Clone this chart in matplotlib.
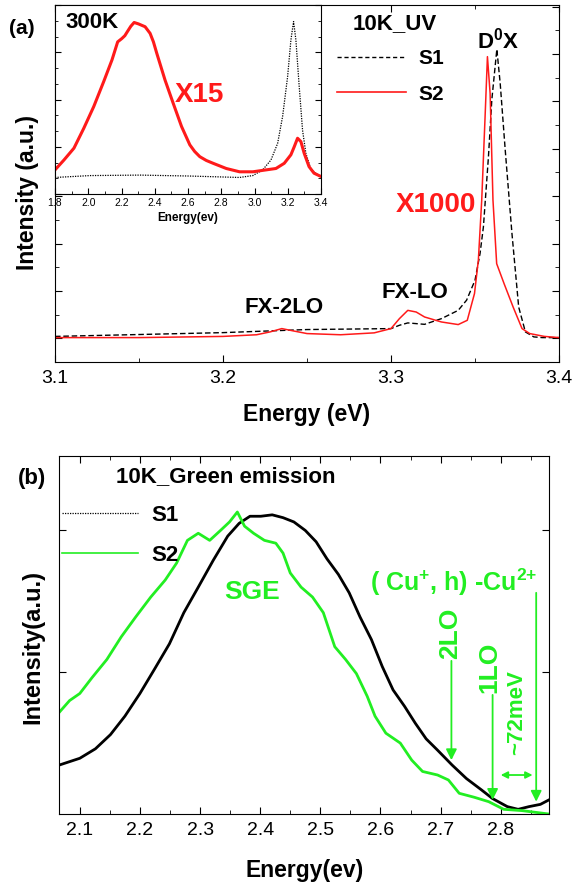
import matplotlib
matplotlib.use('Agg')
import matplotlib.pyplot as plt
from matplotlib.ticker import MultipleLocator, FixedLocator, AutoMinorLocator
from matplotlib.lines import Line2D

plt.rcParams['font.family'] = ['Liberation Sans', 'DejaVu Sans']
plt.rcParams['mathtext.fontset'] = 'custom'
plt.rcParams['mathtext.rm'] = 'Liberation Sans'
plt.rcParams['mathtext.bf'] = 'Liberation Sans:bold'

RED = '#ff1a1a'
GREEN = '#22ee22'

# ---- panel (a): 10K UV emission ----
s2_uv_e = [3.10, 3.15, 3.20, 3.22, 3.228, 3.235, 3.242, 3.25, 3.27, 3.29, 3.30, 3.305,
           3.31, 3.315, 3.32, 3.33, 3.34, 3.3454, 3.3497, 3.352, 3.354, 3.356, 3.3574,
           3.359, 3.3607, 3.3629, 3.3673, 3.3727, 3.378, 3.3826, 3.3913, 3.40]
s2_uv_i = [1.03, 1.03, 1.08, 1.15, 1.27, 1.41, 1.31, 1.20, 1.15, 1.23, 1.41, 1.83,
           2.18, 2.11, 1.90, 1.69, 1.58, 1.76, 2.89, 4.30, 6.83, 10.35, 12.89,
           11.34, 6.83, 4.15, 3.31, 2.32, 1.41, 1.20, 1.08, 1.03]
s1_uv_e = [3.10, 3.20, 3.25, 3.30, 3.305, 3.31, 3.32, 3.33, 3.34, 3.345, 3.35, 3.353,
           3.355, 3.358, 3.36, 3.363, 3.365, 3.368, 3.372, 3.376, 3.38, 3.385, 3.39, 3.40]
s1_uv_i = [1.08, 1.24, 1.37, 1.41, 1.55, 1.65, 1.59, 1.83, 2.18, 2.61, 3.45, 4.58,
           5.70, 8.66, 11.06, 13.20, 11.76, 8.94, 5.42, 2.32, 1.27, 1.06, 1.03, 1.03]

# inset: 300K spectra
s2_rt_e = [1.80, 1.854, 1.914, 1.973, 2.033, 2.093, 2.143, 2.177, 2.202, 2.22, 2.236,
           2.256, 2.276, 2.302, 2.342, 2.372, 2.392, 2.412, 2.462, 2.511, 2.561, 2.611,
           2.64, 2.671, 2.71, 2.751, 2.830, 2.910, 2.990, 3.069, 3.129, 3.179, 3.219,
           3.239, 3.259, 3.279, 3.299, 3.328, 3.358, 3.40]
s2_rt_i = [0.51, 0.72, 0.97, 1.39, 1.85, 2.38, 2.84, 3.22, 3.29, 3.35, 3.44,
           3.55, 3.63, 3.60, 3.54, 3.40, 3.22, 2.98, 2.41, 1.92, 1.43, 1.04,
           0.90, 0.79, 0.71, 0.65, 0.54, 0.47, 0.47, 0.51, 0.54, 0.65, 0.83,
           1.00, 1.18, 1.11, 0.86, 0.58, 0.44, 0.37]
s1_rt_e = [1.80, 2.013, 2.312, 2.611, 2.910, 2.990, 3.049, 3.099, 3.139, 3.169, 3.199,
           3.219, 3.235, 3.249, 3.269, 3.289, 3.309, 3.338, 3.368, 3.40]
s1_rt_i = [0.35, 0.39, 0.40, 0.38, 0.35, 0.39, 0.51, 0.72, 1.07, 1.64, 2.48,
           3.26, 3.65, 3.26, 2.27, 1.35, 0.86, 0.54, 0.44, 0.37]

# ---- panel (b): 10K green emission ----
s1_g_e = [2.0664, 2.10, 2.126, 2.151, 2.175, 2.20, 2.224, 2.249, 2.273, 2.297, 2.322,
          2.346, 2.365, 2.383, 2.401, 2.42, 2.438, 2.456, 2.475, 2.493, 2.511, 2.53,
          2.548, 2.566, 2.585, 2.603, 2.621, 2.64, 2.658, 2.676, 2.695, 2.719, 2.743,
          2.768, 2.786, 2.811, 2.829, 2.847, 2.866, 2.88]
s1_g_i = [0.346, 0.393, 0.46, 0.56, 0.69, 0.85, 1.02, 1.20, 1.42, 1.60, 1.79,
          1.96, 2.05, 2.10, 2.10, 2.11, 2.09, 2.06, 2.00, 1.92, 1.80, 1.69,
          1.56, 1.39, 1.23, 1.04, 0.875, 0.76, 0.64, 0.53, 0.45, 0.346, 0.25,
          0.17, 0.11, 0.052, 0.033, 0.052, 0.068, 0.099]
s2_g_e = [2.0664, 2.083, 2.10, 2.12, 2.145, 2.169, 2.193, 2.218, 2.242, 2.261, 2.279,
          2.297, 2.316, 2.334, 2.349, 2.362, 2.374, 2.389, 2.407, 2.426, 2.438, 2.45,
          2.468, 2.487, 2.505, 2.524, 2.542, 2.56, 2.578, 2.591, 2.609, 2.633, 2.652,
          2.67, 2.695, 2.713, 2.731, 2.756, 2.78, 2.805, 2.835, 2.88]
s2_g_i = [0.72, 0.80, 0.85, 0.96, 1.09, 1.25, 1.39, 1.53, 1.65, 1.77, 1.93,
          1.98, 1.93, 2.00, 2.06, 2.13, 2.03, 1.98, 1.93, 1.91, 1.84, 1.70,
          1.60, 1.53, 1.42, 1.18, 1.09, 0.99, 0.83, 0.69, 0.57, 0.50, 0.38,
          0.30, 0.275, 0.24, 0.146, 0.118, 0.087, 0.033, 0.024, 0.0]

fig = plt.figure(figsize=(5.76, 8.84), dpi=100)
W, H = 576, 884


def box(l, t, r, b):
    return [l / W, 1 - b / H, (r - l) / W, (b - t) / H]


def ftext(x, y, s, **kw):
    fig.text(x / W, 1 - y / H, s, ha='center', va='center', **kw)


# main axes (a)
ax = fig.add_axes(box(55, 5, 559, 362))
ax.plot(s1_uv_e, s1_uv_i, color='black', ls=(0, (4, 2)), lw=1.0)
ax.plot(s2_uv_e, s2_uv_i, color=RED, lw=1.1)
ax.set_xlim(3.1, 3.4)
ax.set_ylim(0, 15.07)
ax.xaxis.set_major_locator(MultipleLocator(0.1))
ax.xaxis.set_minor_locator(MultipleLocator(0.05))
ax.yaxis.set_major_locator(FixedLocator([1, 3, 5, 7, 9, 11, 13, 15]))
ax.yaxis.set_minor_locator(FixedLocator([2, 4, 6, 8, 10, 12, 14]))
ax.tick_params(which='both', direction='in', top=True, right=True, labelleft=False)
ax.tick_params(which='major', length=5, labelsize=14, pad=6)
ax.tick_params(which='minor', length=3)
ax.text(3.3268, 6.62, 'X1000', color=RED, fontsize=20, fontweight='bold', ha='center', va='center')
ax.text(3.3024, 14.3, '10K_UV', fontsize=16, fontweight='bold', ha='center', va='center')
ax.text(3.3637, 13.59, r'D$^{\mathbf{0}}$X', fontsize=16, fontweight='bold', ha='center', va='center')
ax.text(3.3143, 2.95, 'FX-LO', fontsize=16, fontweight='bold', ha='center', va='center')
ax.text(3.2363, 2.28, 'FX-2LO', fontsize=16, fontweight='bold', ha='center', va='center')
handles = [Line2D([], [], color='black', ls=(0, (3, 2)), lw=1.0),
           Line2D([], [], color=RED, lw=1.2)]
ax.legend(handles, ['S1', 'S2'], loc='upper left', bbox_to_anchor=(337 / W, 1 - 49 / H),
          bbox_transform=fig.transFigure, frameon=False, borderpad=0, borderaxespad=0,
          handlelength=3.3, handletextpad=0.6, labelspacing=0.8,
          prop={'weight': 'bold', 'size': 15})

# inset (300K)
ins = fig.add_axes(box(55, 5, 321, 194))
ins.plot(s1_rt_e, s1_rt_i, color='black', ls=(0, (1, 1)), lw=0.9)
ins.plot(s2_rt_e, s2_rt_i, color=RED, lw=2.2)
ins.set_xlim(1.8, 3.4)
ins.set_ylim(0, 4)
ins.xaxis.set_major_locator(MultipleLocator(0.2))
ins.xaxis.set_minor_locator(MultipleLocator(0.1))
ins.yaxis.set_major_locator(MultipleLocator(1))
ins.yaxis.set_minor_locator(AutoMinorLocator(3))
ins.tick_params(which='both', direction='in', right=True, labelleft=False)
ins.tick_params(which='major', length=4, labelsize=7.5, pad=3)
ins.tick_params(which='minor', length=2)
ins.set_xticks([1.8, 2.0, 2.2, 2.4, 2.6, 2.8, 3.0, 3.2, 3.4])
ins.set_xticklabels(['1.8', '2.0', '2.2', '2.4', '2.6', '2.8', '3.0', '3.2', '3.4'])
ins.text(2.025, 3.64, '300K', fontsize=16, fontweight='bold', ha='center', va='center')
ins.text(2.671, 2.10, 'X15', color=RED, fontsize=20, fontweight='bold', ha='center', va='center')
ftext(188, 218, 'Energy(ev)', fontsize=8.5, fontweight='bold')

ftext(22, 29, '(a)', fontsize=15, fontweight='bold')
ftext(28, 193, 'Intensity (a.u.)', fontsize=16.5, fontweight='bold', rotation=90)
ftext(307, 414, 'Energy (eV)', fontsize=16.5, fontweight='bold')

# panel (b)
bx = fig.add_axes(box(59, 456, 549, 814))
bx.plot(s1_g_e, s1_g_i, color='black', lw=2.0)
bx.plot(s2_g_e, s2_g_i, color=GREEN, lw=2.0)
bx.set_xlim(2.0654, 2.8803)
bx.set_ylim(0, 2.525)
bx.xaxis.set_major_locator(MultipleLocator(0.1))
bx.xaxis.set_minor_locator(MultipleLocator(0.05))
bx.yaxis.set_major_locator(FixedLocator([1, 2]))
bx.tick_params(which='both', direction='in', top=True, right=True, labelleft=False)
bx.tick_params(which='major', length=5, labelsize=14, pad=6)
bx.tick_params(which='minor', length=3)
bx.text(2.3866, 1.566, 'SGE', color=GREEN, fontsize=19, fontweight='bold', ha='center', va='center')
bx.text(2.7224, 1.636, r'( Cu$^{\mathbf{{+}}}$, h) -Cu$^{\mathbf{2{+}}}$', color=GREEN,
        fontsize=18, fontweight='bold', ha='center', va='center')
bx.text(2.7157, 1.276, '2LO', color=GREEN, fontsize=19, fontweight='bold', rotation=90,
        ha='center', va='center')
bx.text(2.7805, 1.037, '1LO', color=GREEN, fontsize=19, fontweight='bold', rotation=90,
        ha='center', va='center')
bx.text(2.8263, 0.712, '~72meV', color=GREEN, fontsize=16, fontweight='bold', rotation=90,
        ha='center', va='center')
arrow = dict(arrowstyle='-|>', color=GREEN, lw=1.3, mutation_scale=16, shrinkA=0, shrinkB=0)
bx.annotate('', xy=(2.718, 0.38), xytext=(2.718, 1.08), arrowprops=arrow)
bx.annotate('', xy=(2.7865, 0.10), xytext=(2.7865, 0.84), arrowprops=arrow)
bx.annotate('', xy=(2.859, 0.087), xytext=(2.859, 1.56), arrowprops=arrow)
bx.annotate('', xy=(2.853, 0.275), xytext=(2.800, 0.275),
            arrowprops=dict(arrowstyle='<|-|>', color=GREEN, lw=1.3, mutation_scale=10,
                            shrinkA=0, shrinkB=0))
handles_b = [Line2D([], [], color='black', ls=(0, (1, 1)), lw=0.9),
             Line2D([], [], color=GREEN, lw=1.2)]
bx.legend(handles_b, ['S1', 'S2'], loc='upper left', bbox_to_anchor=(62 / W, 1 - 505 / H),
          bbox_transform=fig.transFigure, frameon=False, borderpad=0, borderaxespad=0,
          handlelength=3.4, handletextpad=0.6, labelspacing=0.85,
          prop={'weight': 'bold', 'size': 16})

ftext(32, 479, '(b)', fontsize=16, fontweight='bold')
ftext(226, 477, '10K_Green emission', fontsize=16, fontweight='bold')
ftext(33, 647, 'Intensity(a.u.)', fontsize=17, fontweight='bold', rotation=90)
ftext(305, 870, 'Energy(ev)', fontsize=16.5, fontweight='bold')

fig.savefig('out.png', dpi=100)
